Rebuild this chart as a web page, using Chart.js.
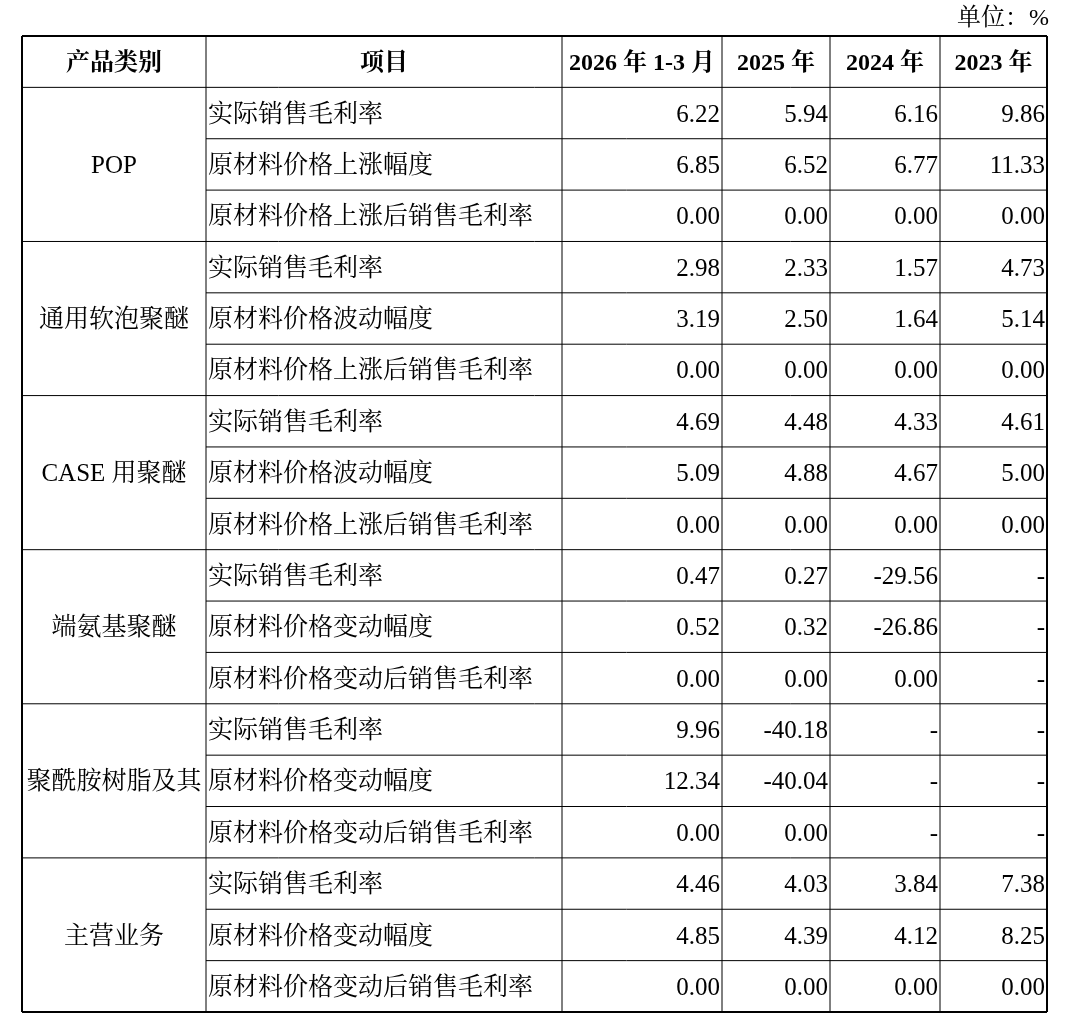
<!DOCTYPE html>
<html><head><meta charset="utf-8">
<script src="https://cdn.jsdelivr.net/npm/chart.js@4.4.0/dist/chart.umd.min.js"></script>
<style>html,body{margin:0;padding:0;background:#fff}#wrap{width:1080px;height:1023px}</style>
</head><body><div id="wrap"><canvas id="c"></canvas></div>
<script>
const unitLabel = '单位：%';
const headers = ['产品类别','项目','2026 年 1-3 月','2025 年','2024 年','2023 年'];
const categories = ['POP','通用软泡聚醚','CASE 用聚醚','端氨基聚醚','聚酰胺树脂及其','主营业务'];
const items = [
 '实际销售毛利率','原材料价格上涨幅度','原材料价格上涨后销售毛利率',
 '实际销售毛利率','原材料价格波动幅度','原材料价格上涨后销售毛利率',
 '实际销售毛利率','原材料价格波动幅度','原材料价格上涨后销售毛利率',
 '实际销售毛利率','原材料价格变动幅度','原材料价格变动后销售毛利率',
 '实际销售毛利率','原材料价格变动幅度','原材料价格变动后销售毛利率',
 '实际销售毛利率','原材料价格变动幅度','原材料价格变动后销售毛利率'];
const v2026q1 = ['6.22','6.85','0.00','2.98','3.19','0.00','4.69','5.09','0.00','0.47','0.52','0.00','9.96','12.34','0.00','4.46','4.85','0.00'];
const v2025 = ['5.94','6.52','0.00','2.33','2.50','0.00','4.48','4.88','0.00','0.27','0.32','0.00','-40.18','-40.04','0.00','4.03','4.39','0.00'];
const v2024 = ['6.16','6.77','0.00','1.57','1.64','0.00','4.33','4.67','0.00','-29.56','-26.86','0.00','-','-','-','3.84','4.12','0.00'];
const v2023 = ['9.86','11.33','0.00','4.73','5.14','0.00','4.61','5.00','0.00','-','-','-','-','-','-','7.38','8.25','0.00'];
const valueCols = [v2026q1, v2025, v2024, v2023];
const colEdges = [0,184,540,700,808,918,1025];

const CJK = '"Liberation Serif","Noto Serif CJK SC","Noto Sans CJK SC",serif';
const tablePlugin = {
 id:'table',
 afterDraw(chart){
  const ctx = chart.ctx, xs = chart.scales.x, ys = chart.scales.y;
  const X = v=>xs.getPixelForValue(v), Y = v=>ys.getPixelForValue(v);
  const nRows = items.length + 1;
  ctx.save();
  ctx.strokeStyle='#000';
  for(let r=0;r<=nRows;r++){
    let x0 = colEdges[0];
    if(r>1 && r<nRows && (r-1)%3!==0) x0 = colEdges[1];
    ctx.lineWidth = (r===0||r===nRows)?2:1;
    ctx.beginPath();ctx.moveTo(X(x0),Y(r));ctx.lineTo(X(colEdges[6]),Y(r));ctx.stroke();
  }
  colEdges.forEach((c,i)=>{
    ctx.lineWidth=(i===0||i===colEdges.length-1)?2:1;
    ctx.beginPath();ctx.moveTo(X(c),Y(0));ctx.lineTo(X(c),Y(nRows));ctx.stroke();
  });
  ctx.fillStyle='#000';ctx.textBaseline='middle';
  const dy = 2;
  ctx.font='bold 24px '+CJK;ctx.textAlign='center';
  headers.forEach((h,i)=>ctx.fillText(h,(X(colEdges[i])+X(colEdges[i+1]))/2,Y(0.5)+dy));
  ctx.font='25px '+CJK;
  categories.forEach((c,g)=>{
    ctx.textAlign='center';
    ctx.fillText(c,(X(colEdges[0])+X(colEdges[1]))/2,Y(1+g*3+1.5)+dy);
  });
  items.forEach((it,r)=>{
    ctx.textAlign='left';
    ctx.fillText(it,X(colEdges[1])+2,Y(r+1.5)+dy);
    valueCols.forEach((col,ci)=>{
      ctx.textAlign='right';
      ctx.fillText(col[r],X(colEdges[ci+3])-2,Y(r+1.5)+dy);
    });
  });
  ctx.font='24px '+CJK;
  ctx.textAlign='right';
  ctx.fillText(unitLabel,X(colEdges[6])+2,19);
  ctx.restore();
 }
};
new Chart(document.getElementById('c'),{
 type:'scatter',
 data:{datasets:[{data:[],pointRadius:0}]},
 options:{responsive:true,maintainAspectRatio:false,animation:false,
  layout:{padding:{left:22,right:33,top:36,bottom:11}},
  plugins:{legend:{display:false},tooltip:{enabled:false}},
  scales:{
   x:{type:'linear',min:0,max:1025,display:false},
   y:{type:'linear',min:0,max:19,reverse:true,display:false}
  }},
 plugins:[tablePlugin]
});
</script></body></html>
